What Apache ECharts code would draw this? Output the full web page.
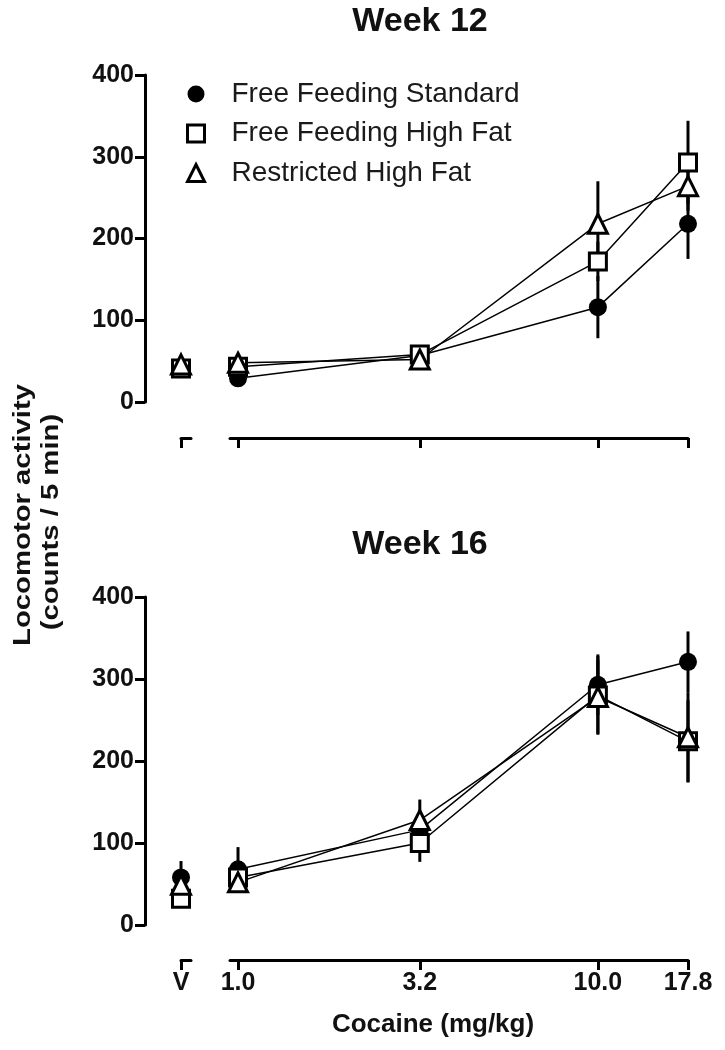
<!DOCTYPE html>
<html>
<head>
<meta charset="utf-8">
<script src="https://cdn.jsdelivr.net/npm/echarts@6/dist/echarts.min.js"></script>
<style>
html,body{margin:0;padding:0;background:#fff;}
#c{width:725px;height:1050px;}
</style>
</head>
<body>
<div id="c"></div>
<script>
// ---------- data ----------
const doses = [1.0, 3.2, 10.0, 17.8];
const doseLabels = ['1.0', '3.2', '10.0', '17.8'];
const vehicleLabel = 'V';
const yTicks = [0, 100, 200, 300, 400];
const groups = ['Free Feeding Standard', 'Free Feeding High Fat', 'Restricted High Fat'];
const panelTitles = ['Week 12', 'Week 16'];
const yTitle = ['Locomotor activity', '(counts / 5 min)'];
const xTitle = 'Cocaine (mg/kg)';

// Week 12 (means / SEM at 1.0, 3.2, 10.0, 17.8 mg/kg)
const w12_FFS = [29, 57, 116, 218];
const w12_FFHF = [43, 58, 172, 293];
const w12_RHF = [48, 52, 218, 264];
const w12_FFS_sem = [4, 6, 38, 43];
const w12_FFHF_sem = [5, 5, 24, 51];
const w12_RHF_sem = [4, 5, 52, 30];
// vehicle: FFS, FFHF, RHF
const w12_veh = [42, 41, 46];
const w12_veh_sem = [5, 5, 4];

// Week 16
const w16_FFS = [68, 116, 293, 321];
const w16_FFHF = [58, 100, 280, 224];
const w16_RHF = [52, 128, 278, 229];
const w16_FFS_sem = [27, 12, 37, 37];
const w16_FFHF_sem = [10, 23, 48, 50];
const w16_RHF_sem = [8, 25, 45, 55];
const w16_veh = [58, 32, 49];
const w16_veh_sem = [20, 6, 8];

// ---------- chart ----------
const FONT = "'Liberation Sans', Arial, Helvetica, sans-serif";
const INK = '#111';

const markerDefs = [
  { symbol: 'circle', size: 18, style: { color: '#000', borderColor: '#000', borderWidth: 0 } },
  { symbol: 'rect', size: 17, style: { color: '#fff', borderColor: '#000', borderWidth: 3 } },
  { symbol: 'triangle', size: 19, style: { color: '#fff', borderColor: '#000', borderWidth: 3 } }
];

const panels = [
  { means: [w12_FFS, w12_FFHF, w12_RHF], sems: [w12_FFS_sem, w12_FFHF_sem, w12_RHF_sem],
    veh: w12_veh, vehSem: w12_veh_sem, top: 75, height: 327, xOff: 36, labels: false, titleY: 22 },
  { means: [w16_FFS, w16_FFHF, w16_RHF], sems: [w16_FFS_sem, w16_FFHF_sem, w16_RHF_sem],
    veh: w16_veh, vehSem: w16_veh_sem, top: 597, height: 328, xOff: 35, labels: true, titleY: 545 }
];

const MAIN_LEFT = 230, MAIN_RIGHT = 37, VEH_LEFT = 181, VEH_W = 10, Y_AXIS_X = 145;

function errRender(params, api) {
  const x = api.value(0), y = api.value(1), e = api.value(2);
  const p1 = api.coord([x, y - e]);
  const p2 = api.coord([x, y + e]);
  return {
    type: 'line',
    shape: { x1: p1[0], y1: p1[1], x2: p2[0], y2: p2[1] },
    style: { stroke: '#000', lineWidth: 3 }
  };
}

const grids = [], xAxes = [], yAxes = [], series = [];
const axisLineStyle = { color: '#000', width: 3 };
const tickStyle = { color: '#000', width: 3 };

panels.forEach((p, pi) => {
  const mi = pi * 2, vi = pi * 2 + 1;
  grids.push({ left: MAIN_LEFT, right: MAIN_RIGHT, top: p.top, height: p.height });
  grids.push({ left: VEH_LEFT, width: VEH_W, top: p.top, height: p.height });

  xAxes.push({
    type: 'log', logBase: 10, gridIndex: mi, min: 0.95, max: 17.8, offset: p.xOff, position: 'bottom',
    axisLine: { show: true, onZero: false, lineStyle: axisLineStyle },
    axisTick: { show: true, length: 10, lineStyle: tickStyle, customValues: doses },
    axisLabel: {
      show: p.labels, customValues: doses, margin: 11,
      formatter: v => { const i = doses.findIndex(d => Math.abs(d - v) < 1e-6); return i >= 0 ? doseLabels[i] : ''; },
      fontFamily: FONT, fontWeight: 'bold', fontSize: 25, color: INK
    },
    splitLine: { show: false }, minorTick: { show: false }
  });
  xAxes.push({
    type: 'value', gridIndex: vi, min: 0, max: 1, offset: p.xOff, position: 'bottom',
    axisLine: { show: true, onZero: false, lineStyle: axisLineStyle },
    axisTick: { show: true, length: 10, lineStyle: tickStyle, customValues: [0] },
    axisLabel: {
      show: p.labels, customValues: [0], margin: 11, formatter: () => vehicleLabel,
      fontFamily: FONT, fontWeight: 'bold', fontSize: 25, color: INK
    },
    splitLine: { show: false }
  });
  yAxes.push({
    type: 'value', gridIndex: mi, min: yTicks[0], max: yTicks[yTicks.length - 1], interval: 100,
    position: 'left', offset: MAIN_LEFT - Y_AXIS_X,
    axisLine: { show: true, onZero: false, lineStyle: axisLineStyle },
    axisTick: { show: true, length: 10, lineStyle: tickStyle },
    axisLabel: { margin: 11, fontFamily: FONT, fontWeight: 'bold', fontSize: 25, color: INK },
    splitLine: { show: false }
  });
  yAxes.push({
    type: 'value', gridIndex: vi, min: yTicks[0], max: yTicks[yTicks.length - 1], show: false,
    splitLine: { show: false }
  });

  groups.forEach((g, gi) => {
    const m = markerDefs[gi];
    series.push({
      type: 'scatter', name: g, xAxisIndex: mi, yAxisIndex: mi,
      data: doses.map((d, i) => [d, p.means[gi][i]]),
      symbol: m.symbol, symbolSize: m.size, itemStyle: Object.assign({ opacity: 1 }, m.style),
      z: 5 + gi, clip: false, silent: true
    });
    series.push({
      type: 'scatter', name: g, xAxisIndex: vi, yAxisIndex: vi,
      data: [[0, p.veh[gi]]],
      symbol: m.symbol, symbolSize: m.size, itemStyle: Object.assign({ opacity: 1 }, m.style),
      z: 5 + gi, clip: false, silent: true
    });
    series.push({
      type: 'line', name: g + ' line', xAxisIndex: mi, yAxisIndex: mi,
      data: doses.map((d, i) => [d, p.means[gi][i]]),
      showSymbol: false, lineStyle: { color: '#000', width: 1.5 }, z: 3, silent: true
    });
    series.push({
      type: 'custom', name: g + ' sem', xAxisIndex: mi, yAxisIndex: mi,
      data: doses.map((d, i) => [d, p.means[gi][i], p.sems[gi][i]]),
      renderItem: errRender, z: 2, silent: true
    });
    series.push({
      type: 'custom', name: g + ' vsem', xAxisIndex: vi, yAxisIndex: vi,
      data: [[0, p.veh[gi], p.vehSem[gi]]],
      renderItem: errRender, z: 2, silent: true
    });
  });
});

const graphics = [];
panels.forEach((p, pi) => {
  graphics.push({
    type: 'text', x: 420, y: p.titleY, silent: true,
    style: { text: panelTitles[pi], font: 'bold 34px ' + FONT, fill: INK,
      align: 'center', verticalAlign: 'middle', textAlign: 'center', textVerticalAlign: 'middle' }
  });
});
graphics.push({
  type: 'text', x: 23, y: 515, rotation: Math.PI / 2, scaleX: 1.22, silent: true,
  style: { text: yTitle[0], font: 'bold 24px ' + FONT, fill: INK,
    align: 'center', verticalAlign: 'middle', textAlign: 'center', textVerticalAlign: 'middle' }
});
graphics.push({
  type: 'text', x: 51, y: 522, rotation: Math.PI / 2, scaleX: 1.22, silent: true,
  style: { text: yTitle[1], font: 'bold 24px ' + FONT, fill: INK,
    align: 'center', verticalAlign: 'middle', textAlign: 'center', textVerticalAlign: 'middle' }
});
graphics.push({
  type: 'text', x: 433, y: 1025, silent: true,
  style: { text: xTitle, font: 'bold 26px ' + FONT, fill: INK,
    align: 'center', verticalAlign: 'middle', textAlign: 'center', textVerticalAlign: 'middle' }
});

const option = {
  animation: false,
  backgroundColor: '#fff',
  grid: grids,
  xAxis: xAxes,
  yAxis: yAxes,
  legend: {
    data: groups.map((g, gi) => ({
      name: g, icon: markerDefs[gi].symbol,
      itemStyle: Object.assign({}, markerDefs[gi].style)
    })),
    orient: 'vertical', left: 186, top: 80, padding: 0,
    itemWidth: 17, itemHeight: 17, itemGap: 11.5,
    selectedMode: false,
    textStyle: { fontFamily: FONT, fontSize: 28, color: '#1a1a1a', lineHeight: 28, padding: [0, 0, 0, 22] }
  },
  graphic: graphics,
  series: series
};

const chart = echarts.init(document.getElementById('c'));
chart.setOption(option);
</script>
</body>
</html>
